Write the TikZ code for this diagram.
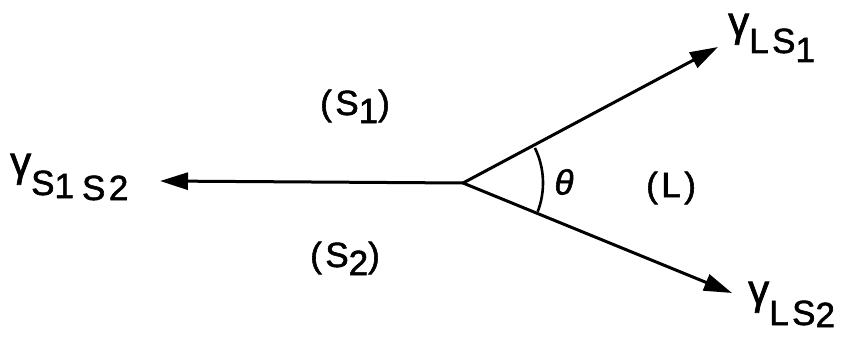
\documentclass[tikz,border=0pt]{standalone}
\usepackage{fontspec}
\setmainfont{Liberation Sans}
\newfontfamily\lab[LetterSpace=10,FakeBold=1.6]{Liberation Sans}
\newcommand{\gam}{{\fontsize{42}{46}\selectfont γ}}
\usetikzlibrary{arrows.meta}
\begin{document}
\begin{tikzpicture}[x=1pt,y=-1pt,
  vec/.style={line width=3pt, -{Triangle[length=28pt,width=17pt]}},
  lbl/.style={font=\lab\fontsize{35}{40}\selectfont, inner sep=0pt, anchor=base west},
  anglemark/.style={line width=2.6pt}]
\useasboundingbox[fill=white] (0,0) rectangle (849,337);
\coordinate (O) at (463,183);
\coordinate (A) at (160,181);
\coordinate (B) at (718,47);
\coordinate (C) at (732,293);
\draw[vec] (O) -- (A);
\draw[vec] (O) -- (B);
\draw[vec] (O) -- (C);
\draw[anglemark] (O) ++(-26:80) arc[start angle=-26, end angle=21, radius=80];
\node[font=\lab\fontsize{35}{40}\selectfont\itshape, inner sep=0pt] (theta) at (564,182) {θ};
\node[lbl] (gLSone) at (728,53) {\raisebox{17pt}{\gam}LS\raisebox{-9pt}{1}};
\node[lbl] (gSS) at (10,195) {\raisebox{19pt}{\gam}S\raisebox{-3pt}{1}\hspace{8pt}\raisebox{-5pt}{S2}};
\node[lbl] (gLStwo) at (748,325) {\raisebox{21pt}{\gam}LS\raisebox{-2pt}{2}};
\node[lbl] (Sone) at (320,115) {(S\raisebox{-8pt}{1})};
\node[lbl] (Stwo) at (310,267) {(S\raisebox{-8pt}{2})};
\node[lbl] (L) at (646,197) {(L)};
\end{tikzpicture}
\end{document}
